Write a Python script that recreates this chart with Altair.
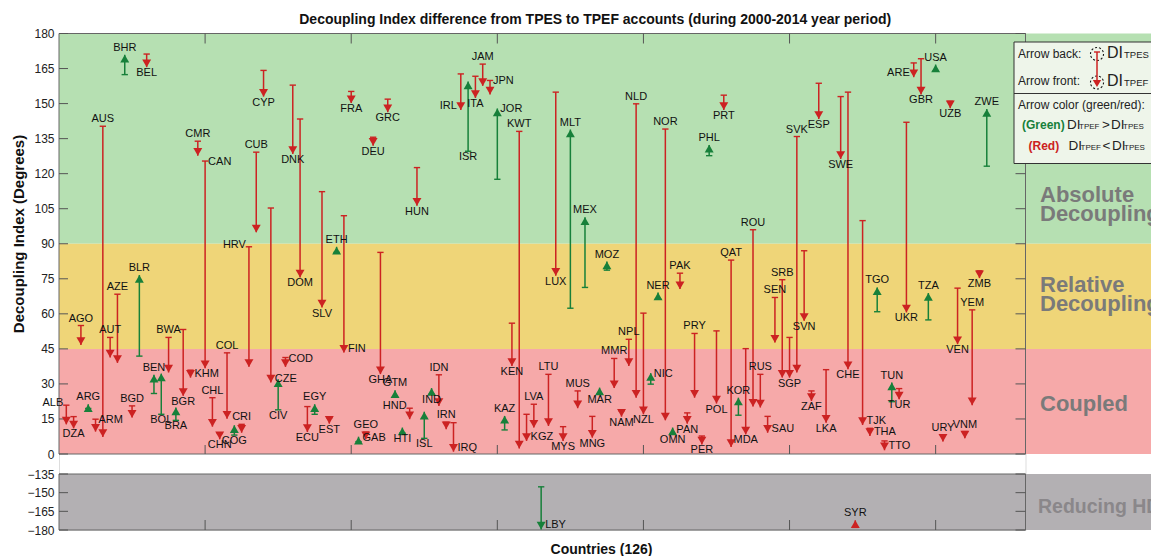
import altair as alt
import pandas as pd

FONT = "Liberation Sans"
GREEN = "#17803a"
RED = "#cc2222"

# ---------------- data ----------------
pos = [1, 2, 3, 4, 5, 6, 7, 8, 9, 10, 11, 12, 13, 14, 15, 16, 17, 18, 19, 20,
       21, 22, 23, 24, 25, 26, 27, 28, 29, 30, 31, 32, 33, 34, 35, 36, 37, 38, 39, 40,
       41, 42, 43, 44, 45, 46, 47, 48, 49, 50, 51, 52, 53, 54, 55, 56, 57, 58, 59, 60,
       61, 62, 63, 64, 65, 66, 67, 68, 69, 70, 71, 72, 73, 74, 75, 76, 77, 78, 79, 80,
       81, 82, 83, 84, 85, 86, 87, 88, 89, 90, 91, 92, 93, 94, 95, 96, 97, 98, 99, 100,
       101, 102, 103, 104, 105, 107, 108, 109, 110, 111, 112, 113, 114, 115, 116, 117,
       118, 119, 120, 121, 122, 123, 124, 125, 126, 127]
iso = ["ALB", "DZA", "AGO", "ARG", "ARM", "AUS", "AUT", "AZE", "BHR", "BGD", "BLR", "BEL",
       "BEN", "BOL", "BWA", "BRA", "BGR", "KHM", "CMR", "CAN", "CHL", "CHN", "COL", "COG",
       "CRI", "HRV", "CUB", "CYP", "CZE", "CIV", "COD", "DNK", "DOM", "ECU", "EGY", "SLV",
       "EST", "ETH", "FIN", "FRA", "GAB", "GEO", "DEU", "GHA", "GRC", "GTM", "HTI", "HND",
       "HUN", "ISL", "IND", "IDN", "IRN", "IRQ", "IRL", "ISR", "ITA", "JAM", "JPN", "JOR",
       "KAZ", "KEN", "KWT", "KGZ", "LVA", "LBY", "LTU", "LUX", "MYS", "MLT", "MUS", "MEX",
       "MNG", "MAR", "MOZ", "MMR", "NAM", "NPL", "NLD", "NZL", "NIC", "NER", "NOR", "OMN",
       "PAK", "PAN", "PRY", "PER", "PHL", "POL", "PRT", "QAT", "KOR", "MDA", "ROU", "RUS",
       "SAU", "SEN", "SRB", "SGP", "SVK", "SVN", "ZAF", "ESP", "LKA", "SWE", "CHE", "SYR",
       "TJK", "THA", "TGO", "TTO", "TUN", "TUR", "UKR", "ARE", "GBR", "TZA", "USA", "URY",
       "UZB", "VEN", "VNM", "YEM", "ZMB", "ZWE"]
di_tpes = [20.9, 16.0, 55.0, 19.5, 14.9, 140.3, 49.9, 68.4, 162.4, 20.6, 41.9, 171.2,
           25.9, 17.0, 49.9, 14.4, 53.3, 35.9, 133.9, 125.4, 24.1, 8.8, 43.3, 8.1,
           12.7, 88.7, 129.2, 164.2, 105.3, 18.9, 41.3, 157.9, 143.4, 20.3, 17.0, 112.3,
           15.5, 86.3, 102.0, 155.2, 5.3, 9.4, 135.6, 86.3, 151.9, 24.4, 9.0, 19.6,
           122.6, 6.7, 25.6, 33.9, 13.6, 13.4, 162.7, 129.6, 161.7, 166.9, 159.9, 117.6,
           10.3, 56.0, 138.1, 17.0, 21.3, -145.3, 34.1, 154.9, 11.7, 62.4, 27.0, 71.3,
           16.1, 25.8, 78.7, 40.9, 18.5, 49.1, 149.9, 60.3, 29.9, 66.5, 139.1, 8.5,
           77.4, 17.6, 51.6, 7.7, 127.7, 52.7, 153.6, 83.0, 16.6, 45.1, 96.0, 34.1,
           16.1, 67.0, 74.6, 49.9, 135.9, 87.0, 27.0, 158.7, 36.1, 153.0, 154.9, -177.9,
           99.9, 11.0, 60.9, 5.6, 22.4, 28.0, 142.0, 167.4, 169.2, 57.4, 164.0, 8.2,
           151.0, 71.0, 9.6, 61.7, 78.4, 123.2]
di_tpef = [12.7, 11.0, 46.7, 21.3, 9.6, 7.3, 41.3, 39.0, 170.9, 15.6, 76.6, 165.6,
           33.9, 34.4, 34.9, 19.9, 24.9, 32.7, 127.7, 36.7, 11.7, 6.3, 15.1, 12.3,
           9.1, 37.3, 94.9, 153.0, 30.6, 32.0, 37.3, 128.4, 75.6, 9.4, 21.3, 62.7,
           13.0, 88.7, 43.4, 150.2, 7.4, 6.3, 132.0, 34.2, 146.3, 27.3, 11.3, 14.9,
           106.3, 18.1, 28.2, 20.6, 10.6, 1.0, 147.3, 159.4, 152.4, 157.6, 153.9, 147.9,
           16.3, 37.7, 2.4, 5.6, 11.3, -179.5, 12.0, 76.3, 5.6, 138.9, 19.6, 101.3,
           7.0, 28.4, 82.4, 28.2, 16.0, 37.7, 24.1, 17.0, 34.6, 69.1, 14.4, 11.3,
           70.6, 13.0, 24.1, 4.1, 132.3, 21.6, 147.3, 3.0, 24.1, 8.4, 20.3, 19.9,
           9.1, 47.7, 32.7, 32.7, 34.9, 57.0, 22.7, 143.4, 13.4, 126.3, 36.3, -172.2,
           12.4, 7.7, 71.3, 1.6, 30.6, 23.4, 60.6, 161.3, 153.9, 68.9, 166.7, 5.3,
           148.0, 47.0, 6.7, 20.9, 75.3, 147.7]
arrow_color = ["r", "r", "r", "g", "r", "r", "r", "r", "g", "r", "g", "r",
               "g", "g", "r", "g", "r", "r", "r", "r", "r", "r", "r", "g",
               "r", "r", "r", "r", "r", "g", "r", "r", "r", "r", "g", "r",
               "r", "g", "r", "r", "g", "r", "r", "r", "r", "g", "g", "r",
               "r", "g", "g", "r", "r", "r", "r", "g", "r", "r", "r", "g",
               "g", "r", "r", "r", "r", "g", "r", "r", "r", "g", "r", "g",
               "r", "g", "g", "r", "r", "r", "r", "r", "g", "g", "r", "g",
               "r", "r", "r", "r", "g", "r", "r", "r", "g", "r", "r", "r",
               "r", "r", "r", "r", "r", "r", "r", "r", "r", "r", "r", "r",
               "r", "r", "g", "r", "g", "r", "r", "r", "r", "g", "g", "r",
               "r", "r", "r", "r", "r", "g"]
label_side = ["lt", "b", "t", "t", "rt", "t", "t", "t", "t", "t", "t", "b",
              "t", "b", "t", "b", "b", "rb", "t", "rt", "t", "b", "t", "b",
              "t", "lt", "t", "b", "rb", "b", "rt", "b", "b", "b", "t", "b",
              "b", "t", "rb", "b", "rb", "t", "b", "b", "b", "t", "b", "lt",
              "b", "b", "b", "t", "t", "rb", "lb", "b", "b", "t", "rt", "rt",
              "t", "b", "t", "rb", "t", "rb", "t", "b", "b", "t", "t", "t",
              "b", "b", "t", "t", "b", "t", "t", "b", "rt", "t", "t", "b",
              "t", "b", "t", "b", "t", "b", "b", "t", "t", "b", "t", "t",
              "rb", "t", "t", "b", "t", "b", "b", "b", "b", "b", "b", "t",
              "rb", "rb", "t", "rb", "t", "b", "b", "lb", "b", "t", "t", "t",
              "b", "b", "t", "t", "b", "t"]

band_lo = [90, 45, 0, -180]
band_hi = [180, 90, 45, -135]
band_fill = ["#b6e0b2", "#efd578", "#f6a9a9", "#b3b0b3"]
panel_lo = [0, -180]
panel_hi = [180, -135]
y_ticks = [-180, -165, -150, -135, 0, 15, 30, 45, 60, 75, 90, 105, 120, 135, 150, 165, 180]
x_ticks = [20, 40, 60, 80, 100, 120]

df = pd.DataFrame({"pos": pos, "iso": iso, "s": di_tpes, "e": di_tpef,
                   "c": arrow_color, "lp": label_side})
bands = pd.DataFrame({"lo": band_lo, "hi": band_hi, "fill": band_fill})
panels = pd.DataFrame({"lo": panel_lo, "hi": panel_hi})
yt = pd.DataFrame({"v": y_ticks})
xt = pd.DataFrame({"t": x_ticks})

# ---------------- layout ----------------
W = 966.5
H = 496.5
xs = alt.Scale(domain=[0, 132.3], nice=False, zero=False)
ys = alt.Scale(domain=[-180, -135, 0, 180], range=[H, H - 56, H - 76, 0], nice=False, zero=False)
col = alt.Color("c:N", scale=alt.Scale(domain=["g", "r"], range=[GREEN, RED]), legend=None)

yaxis = alt.Axis(values=y_ticks, title="Decoupling Index (Degrees)", ticks=False, domain=False,
                 grid=False, labelFontSize=12, labelPadding=5, labelColor="#222", labelFont=FONT,
                 titleFont=FONT, titleFontSize=15, titleFontWeight="bold", titleColor="#111",
                 titleX=-41, titleY=200, titleAngle=270, titleAlign="center", titleBaseline="middle")
xaxis = alt.Axis(title="Countries (126)", labels=False, ticks=False, domain=False, grid=False,
                 titleFont=FONT, titleFontSize=14, titleFontWeight="bold", titleColor="#111",
                 titleX=542, titleY=19, titleAlign="center", titleBaseline="middle")


def X(f):
    return alt.X(f, scale=xs, axis=xaxis)


def Y(f):
    return alt.Y(f, scale=ys, axis=yaxis)


band_layer = alt.Chart(bands).mark_rect().encode(
    x=alt.value(0), x2=alt.value(1100),
    y=Y("lo:Q"), y2="hi:Q",
    color=alt.Color("fill:N", scale=None))

frame_layer = alt.Chart(panels).mark_rect(fillOpacity=0, stroke="#666", strokeWidth=1).encode(
    x=alt.value(0), x2=alt.value(W),
    y=Y("lo:Q"), y2="hi:Q")


def xtick(y0, y1):
    return alt.Chart(xt).mark_rule(color="#555", strokeWidth=1).encode(
        x=X("t:Q"), y=alt.value(y0), y2=alt.value(y1))


def ytick(x0, x1):
    return alt.Chart(yt).mark_rule(color="#555", strokeWidth=1).encode(
        y=Y("v:Q"), x=alt.value(x0), x2=alt.value(x1))


tick_layers = [xtick(0, 10), xtick(H - 76, H - 85), xtick(H, H - 10), ytick(0, 9), ytick(W - 10, W)]

base = alt.Chart(df).transform_calculate(
    top="max(datum.s, datum.e)", bot="min(datum.s, datum.e)",
    dir="datum.e > datum.s ? 'up' : 'down'")

stems = base.mark_rule(strokeWidth=1.5).encode(
    x=X("pos:Q"), y=Y("s:Q"), y2="e:Q", color=col)
caps = base.mark_point(shape="stroke", size=40, strokeWidth=1.4, filled=False, opacity=1).encode(
    x=X("pos:Q"), y=Y("s:Q"), color=col)
tri_up = base.transform_filter("datum.dir == 'up'").mark_point(
    shape="triangle-up", filled=True, size=80, opacity=1, yOffset=3.8).encode(
    x=X("pos:Q"), y=Y("e:Q"), color=col)
tri_dn = base.transform_filter("datum.dir == 'down'").mark_point(
    shape="triangle-down", filled=True, size=80, opacity=1, yOffset=-3.8).encode(
    x=X("pos:Q"), y=Y("e:Q"), color=col)

label_style = {
    "t": ("top", "center", 0, -7),
    "b": ("bot", "center", 0, 6),
    "rt": ("top", "left", 3, 1),
    "rb": ("bot", "left", 4, -4),
    "lt": ("top", "right", -3, -2),
    "lb": ("bot", "right", -4, -4),
}
label_layers = []
for code, (fld, al, dx, dy) in label_style.items():
    label_layers.append(
        base.transform_filter(f"datum.lp == '{code}'").mark_text(
            font=FONT, fontSize=11, color="#111", align=al, baseline="middle", dx=dx, dy=dy).encode(
            x=X("pos:Q"), y=Y(f"{fld}:Q"), text="iso:N"))

ONE = alt.Data(values=[{}])


def txt(x, y, s, size=12, weight="normal", color="#222", align="left", baseline="middle", lh=None):
    kw = dict(text=s, font=FONT, fontSize=size, fontWeight=weight, color=color,
              align=align, baseline=baseline)
    if lh is not None:
        kw["lineHeight"] = lh
    return alt.Chart(ONE).mark_text(**kw).encode(x=alt.value(x), y=alt.value(y))


REG = "#7a7a7a"
region_layers = [
    txt(981, 168, ["Absolute", "Decoupling"], 22, "bold", REG, baseline="alphabetic", lh=19),
    txt(981, 258, ["Relative", "Decoupling"], 22, "bold", REG, baseline="alphabetic", lh=19),
    txt(981, 377, "Coupled", 22, "bold", REG, baseline="alphabetic"),
    txt(979, 479, "Reducing HDI", 19.5, "bold", "#8a878a", baseline="alphabetic"),
]

# legend box
box = alt.Chart(ONE).mark_rect(fill="#eef5ea", stroke="#333", strokeWidth=1).encode(
    x=alt.value(955), x2=alt.value(1110), y=alt.value(8.5), y2=alt.value(130))
sep = alt.Chart(ONE).mark_rule(color="#333", strokeWidth=1).encode(
    x=alt.value(955), x2=alt.value(1110), y=alt.value(60))
circles = [alt.Chart(ONE).mark_point(shape="circle", size=170, filled=False, color="#111",
                                     strokeWidth=1.1, strokeDash=[2, 2], opacity=1).encode(
    x=alt.value(1038), y=alt.value(yy)) for yy in (20.5, 49)]
leg_stem = alt.Chart(ONE).mark_rule(color=RED, strokeWidth=1.5).encode(
    x=alt.value(1038), y=alt.value(18.5), y2=alt.value(49))
leg_cap = alt.Chart(ONE).mark_rule(color=RED, strokeWidth=1.4).encode(
    x=alt.value(1035), x2=alt.value(1041), y=alt.value(18.5))
leg_tri = alt.Chart(ONE).mark_point(shape="triangle-down", filled=True, size=70, color=RED,
                                    opacity=1).encode(x=alt.value(1038), y=alt.value(50))
legend_texts = [
    txt(959, 20, "Arrow back:"),
    txt(959, 47, "Arrow front:"),
    txt(1048, 24.5, "DI", 16, baseline="alphabetic"),
    txt(1065, 24.5, "TPES", 9.5, baseline="alphabetic"),
    txt(1048, 52, "DI", 16, baseline="alphabetic"),
    txt(1065, 52, "TPEF", 9.5, baseline="alphabetic"),
    txt(959, 71, "Arrow color (green/red):"),
    txt(963, 91, "(Green)", 12, "bold", GREEN),
    txt(1008, 95.5, "DI", 13.5, baseline="alphabetic"),
    txt(1020, 95.5, "TPEF", 8, baseline="alphabetic"),
    txt(1043, 95.5, ">", 13.5, baseline="alphabetic"),
    txt(1052, 95.5, "DI", 13.5, baseline="alphabetic"),
    txt(1064, 95.5, "TPES", 8, baseline="alphabetic"),
    txt(969.5, 112, "(Red)", 12, "bold", RED),
    txt(1009.5, 116.5, "DI", 13.5, baseline="alphabetic"),
    txt(1021.5, 116.5, "TPEF", 8, baseline="alphabetic"),
    txt(1043.5, 116.5, "<", 13.5, baseline="alphabetic"),
    txt(1053, 116.5, "DI", 13.5, baseline="alphabetic"),
    txt(1065, 116.5, "TPES", 8, baseline="alphabetic"),
]

chart = alt.layer(
    band_layer, frame_layer, *tick_layers, stems, caps, tri_up, tri_dn, *label_layers,
    *region_layers, box, sep, *circles, leg_stem, leg_cap, leg_tri, *legend_texts
).properties(
    width=W, height=H,
    padding={"left": 51, "top": 25.5, "right": 125, "bottom": 26},
    autosize=alt.AutoSizeParams(type="none"),
    title=alt.TitleParams(
        text="Decoupling Index difference from TPES to TPEF accounts (during 2000-2014 year period)",
        font=FONT, fontSize=14, fontWeight="bold", color="#111", anchor="middle", dx=53, offset=1),
).configure_view(stroke=None).configure(background="white")

chart.save("out.html", embed_options={"renderer": "svg", "actions": False})
